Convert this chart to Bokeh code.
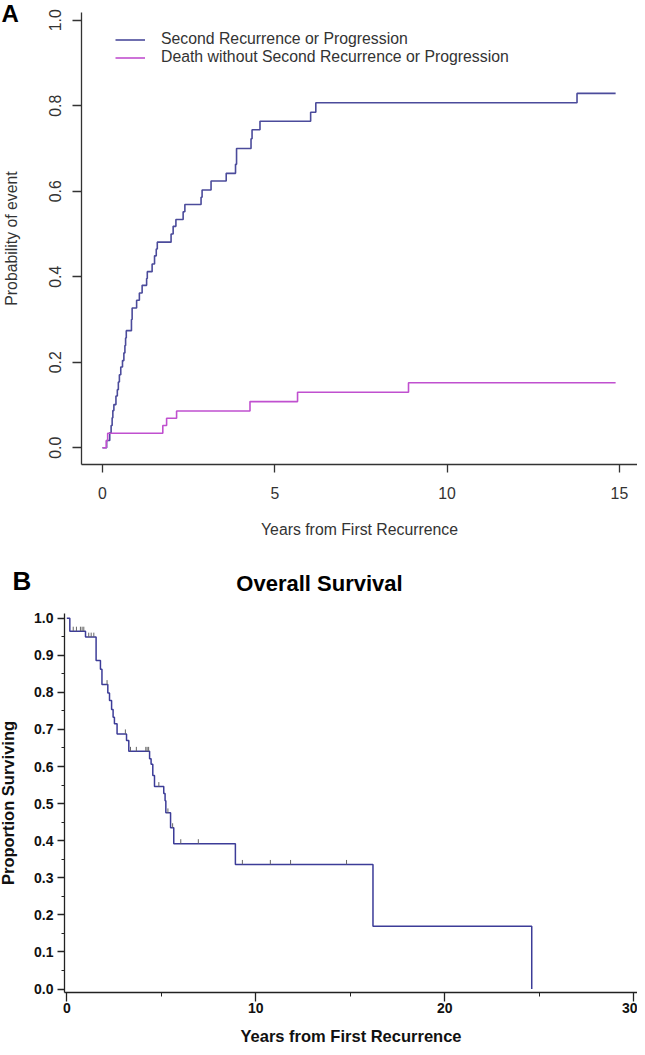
import numpy as np
from bokeh.plotting import figure
from bokeh.models import FixedTicker, NumeralTickFormatter, Legend, LegendItem, LinearAxis
from bokeh.layouts import column
from bokeh.embed import file_html
from bokeh.resources import INLINE
from bokeh.core.properties import value

# ---------------- Panel A data (cumulative incidence) ----------------
rec_years = [0.0, 0.12, 0.21, 0.25, 0.28, 0.30, 0.33, 0.39, 0.43, 0.46, 0.49, 0.53,
             0.58, 0.62, 0.65, 0.67, 0.69, 0.84, 0.86, 0.99, 1.07, 1.15, 1.28, 1.30,
             1.44, 1.51, 1.56, 1.59, 1.99, 2.05, 2.13, 2.34, 2.39, 2.86, 2.89, 3.15,
             3.59, 3.86, 3.89, 4.31, 4.34, 4.57, 6.04, 6.19, 13.77, 14.89]
rec_prob = [0.0, 0.017, 0.035, 0.052, 0.070, 0.087, 0.101, 0.121, 0.136, 0.154, 0.171, 0.189,
            0.204, 0.222, 0.239, 0.257, 0.274, 0.300, 0.327, 0.345, 0.362, 0.380, 0.396, 0.412,
            0.430, 0.449, 0.465, 0.481, 0.500, 0.518, 0.534, 0.552, 0.569, 0.586, 0.603, 0.624,
            0.642, 0.663, 0.700, 0.723, 0.744, 0.764, 0.785, 0.807, 0.829, 0.829]
death_years = [0.0, 0.11, 0.15, 1.75, 1.86, 2.15, 4.28, 5.66, 8.88, 14.89]
death_prob = [0.0, 0.017, 0.034, 0.052, 0.069, 0.086, 0.108, 0.130, 0.152, 0.152]
a_xticks = [0, 5, 10, 15]
a_yticks = [0.0, 0.2, 0.4, 0.6, 0.8, 1.0]
a_labels = ["Second Recurrence or Progression", "Death without Second Recurrence or Progression"]

# ---------------- Panel B data (Kaplan-Meier overall survival) ----------------
os_years = [0.0, 0.16, 0.99, 1.55, 1.78, 1.86, 2.17, 2.26, 2.37, 2.45, 2.52, 2.66, 3.16,
            3.28, 4.38, 4.46, 4.55, 4.64, 5.13, 5.20, 5.24, 5.49, 5.66, 8.92, 16.20, 24.60]
os_surv = [1.0, 0.965, 0.949, 0.886, 0.862, 0.821, 0.798, 0.778, 0.754, 0.733, 0.715, 0.688, 0.670,
           0.641, 0.621, 0.606, 0.576, 0.546, 0.527, 0.508, 0.475, 0.435, 0.392, 0.336, 0.169, 0.0]
censor_years = [0.34, 0.51, 0.72, 0.81, 0.90, 1.16, 1.29, 1.43, 2.13, 3.10, 3.37, 3.68,
                4.18, 4.25, 4.33, 4.87, 5.35, 5.60, 6.03, 6.96, 9.29, 10.77, 11.84, 14.80]
b_xticks = [0, 10, 20, 30]
b_xminor = [5, 15, 25]
b_yticks = [0.0, 0.1, 0.2, 0.3, 0.4, 0.5, 0.6, 0.7, 0.8, 0.9, 1.0]

FONT = "Liberation Sans"
BLUE_A = "#4b4b9b"
MAG_A = "#c050cf"
BLUE_B = "#3c3c98"
GREY_A = "#333333"
INK_B = "#111111"


def make_fig(height, xr, yr):
    p = figure(width=637, height=height, x_range=xr, y_range=yr,
               output_backend="svg", toolbar_location=None,
               x_axis_location=None, y_axis_location=None, min_border=0)
    p.grid.visible = False
    p.outline_line_color = None
    return p


# ================= Panel A =================
pa = make_fig(548, (-2.960, 15.525), (-0.2356, 1.0463))

r_rec = pa.step(rec_years, rec_prob, mode="after", line_color=BLUE_A, line_width=1.6)
r_death = pa.step(death_years, death_prob, mode="after", line_color=MAG_A, line_width=1.6)


def style_a(ax):
    ax.axis_line_color = GREY_A
    ax.axis_line_width = 1.3
    ax.major_tick_line_color = GREY_A
    ax.major_tick_line_width = 1.3
    ax.major_tick_in = 0
    ax.minor_tick_line_color = None
    ax.major_label_text_font = FONT
    ax.major_label_text_font_size = "15.8px"
    ax.major_label_text_color = GREY_A
    ax.axis_label_text_font = FONT
    ax.axis_label_text_font_size = "15.8px"
    ax.axis_label_text_font_style = "normal"
    ax.axis_label_text_color = GREY_A


xa = LinearAxis(fixed_location=-0.0398, bounds=(-0.618, 15.525),
                ticker=FixedTicker(ticks=a_xticks),
                axis_label="Years from First Recurrence")
style_a(xa)
xa.major_tick_out = 8
xa.major_label_standoff = 14
xa.axis_label_standoff = 19
pa.add_layout(xa, "below")

ya = LinearAxis(fixed_location=-0.618, bounds=(-0.0398, 1.018),
                ticker=FixedTicker(ticks=a_yticks),
                formatter=NumeralTickFormatter(format="0.0"),
                axis_label="Probability of event")
style_a(ya)
ya.major_tick_out = 9
ya.major_label_orientation = "vertical"
ya.major_label_standoff = 11
ya.axis_label_standoff = 27
pa.add_layout(ya, "left")

legend = Legend(items=[LegendItem(label=a_labels[0], renderers=[r_rec]),
                       LegendItem(label=a_labels[1], renderers=[r_death])],
                location=(115, 482), border_line_color=None, background_fill_alpha=0,
                padding=0, margin=0, spacing=0, glyph_width=30, glyph_height=17,
                label_height=17, label_standoff=16, label_text_font=FONT,
                label_text_font_size="15.8px", label_text_color=GREY_A)
pa.add_layout(legend)

pa.text(x=[-2.931], y=[1.0159], text=["A"], text_font=value(FONT),
        text_font_size=value("24px"), text_font_style="bold",
        text_align="left", text_baseline="alphabetic", text_color="black")

# ================= Panel B =================
pb = make_fig(499, (-3.508, 30.196), (-0.1577, 1.1879))

pb.step(os_years, os_surv, mode="after", line_color=BLUE_B, line_width=1.5)

yrs = np.array(os_years)
sv = np.array(os_surv)
cidx = np.searchsorted(yrs, np.array(censor_years), side="right") - 1
cy = sv[cidx]
tick_h = 0.012
pb.segment(x0=censor_years, y0=cy, x1=censor_years, y1=cy + tick_h,
           line_color="#666666", line_width=1)


def style_b(ax):
    ax.axis_line_color = "#222222"
    ax.axis_line_width = 1.3
    ax.major_tick_line_color = "#222222"
    ax.major_tick_line_width = 1.3
    ax.minor_tick_line_color = "#222222"
    ax.minor_tick_line_width = 1.0
    ax.major_tick_in = 0
    ax.minor_tick_in = 0
    ax.major_label_text_font = FONT
    ax.major_label_text_font_size = "14px"
    ax.major_label_text_font_style = "bold"
    ax.major_label_text_color = INK_B
    ax.axis_label_text_font = FONT
    ax.axis_label_text_font_size = "16.5px"
    ax.axis_label_text_font_style = "bold"
    ax.axis_label_text_color = INK_B


b_yminor = [round(t + 0.05, 2) for t in b_yticks[:-1]]

xb = LinearAxis(fixed_location=-0.0097, bounds=(-0.122, 30.196),
                ticker=FixedTicker(ticks=b_xticks, minor_ticks=b_xminor),
                axis_label="Years from First Recurrence")
style_b(xb)
xb.major_tick_out = 9
xb.minor_tick_out = 4
xb.major_label_standoff = 1
xb.axis_label_standoff = 11
pb.add_layout(xb, "below")

yb = LinearAxis(fixed_location=-0.122, bounds=(-0.0097, 1.0127),
                ticker=FixedTicker(ticks=b_yticks, minor_ticks=b_yminor),
                formatter=NumeralTickFormatter(format="0.0"),
                axis_label="Proportion Surviving")
style_b(yb)
yb.major_tick_out = 7
yb.minor_tick_out = 3
yb.major_label_standoff = 4
yb.axis_label_standoff = 14
pb.add_layout(yb, "left")

pb.text(x=[13.37], y=[1.0935], text=["Overall Survival"], text_font=value(FONT),
        text_font_size=value("22px"), text_font_style="bold",
        text_align="center", text_baseline="alphabetic", text_color="black")
pb.text(x=[-2.873], y=[1.1016], text=["B"], text_font=value(FONT),
        text_font_size=value("26px"), text_font_style="bold",
        text_align="left", text_baseline="alphabetic", text_color="black")

layout = column(pa, pb)
open("out.html", "w").write(file_html(layout, INLINE))
